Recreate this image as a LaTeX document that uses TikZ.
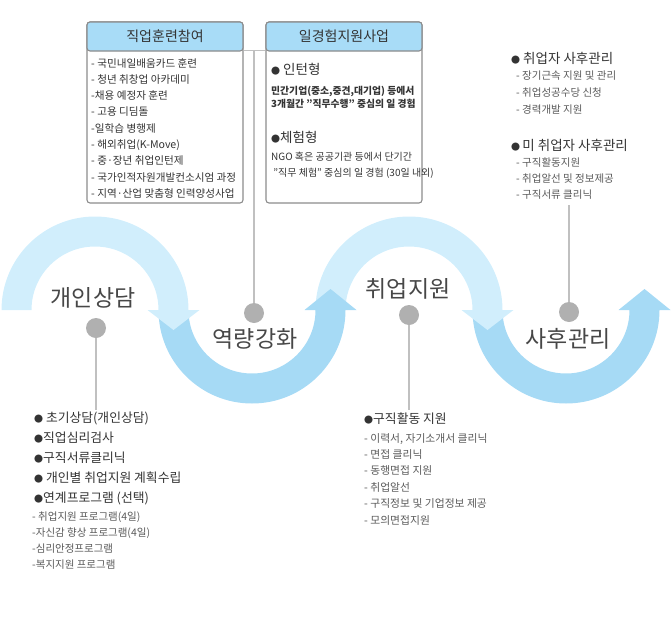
\documentclass[tikz,border=0pt]{standalone}
\usepackage{fontspec}
\setmainfont{Noto Sans CJK KR}
\usetikzlibrary{positioning}
\definecolor{skylight}{RGB}{209,238,252}
\definecolor{skydark}{RGB}{166,218,245}
\definecolor{headblue}{RGB}{168,220,247}
\definecolor{frame}{RGB}{140,140,140}
\definecolor{stemgray}{RGB}{192,192,192}
\definecolor{dotgray}{RGB}{176,176,176}
\definecolor{ink}{RGB}{51,51,51}
\definecolor{subink}{RGB}{90,90,90}
\newcommand{\bul}{{\fontsize{9}{9}\selectfont ●}}
\newcommand{\fs}[2]{\fontsize{#1}{#2}\selectfont}

\begin{document}
\begin{tikzpicture}[x=1pt,y=1pt,
      box/.style={
        % The shape:
        rectangle,rounded corners=3pt,minimum width=156pt,
        % The rest
        line width=1.1pt,draw=frame},
      header/.style={box,minimum height=29pt,fill=headblue,
        font=\fs{14}{14},text=ink},
      stage/.style={font=\fs{23}{23},text=ink!90},
      dot/.style={circle,fill=dotgray,minimum size=20pt,inner sep=0pt},
      stem/.style={line width=2pt,draw=stemgray},
      items/.style={align=left,inner sep=0pt,anchor=north west,text=ink},
      subitems/.style={items,text=subink}]
    \useasboundingbox (0,0) rectangle (672,-616);

    % arcs, right one first so each arrow head lies on top
    \fill[skydark] (472.5,-310) arc[start angle=180,end angle=360,radius=93.5]
      -- (670.5,-310) -- (644.5,-289) -- (618.5,-310) -- (629.5,-310)
      arc[start angle=0,end angle=-180,radius=63.5] -- cycle;
    \fill[skylight] (315.5,-310) arc[start angle=180,end angle=0,radius=93.5]
      -- (513.5,-310) -- (487.5,-330) -- (461.5,-310) -- (472.5,-310)
      arc[start angle=0,end angle=180,radius=63.5] -- cycle;
    \fill[skydark] (158.5,-310) arc[start angle=180,end angle=360,radius=93.5]
      -- (356.5,-310) -- (330.5,-289) -- (304.5,-310) -- (315.5,-310)
      arc[start angle=0,end angle=-180,radius=63.5] -- cycle;
    \fill[skylight] (1.5,-310) arc[start angle=180,end angle=0,radius=93.5]
      -- (199.5,-310) -- (173.5,-330) -- (147.5,-310) -- (158.5,-310)
      arc[start angle=0,end angle=180,radius=63.5] -- cycle;

    \node(coun)[stage] at (93,-298) {개인상담};
    \node(cap)[stage] at (255,-339) {역량강화};
    \node(job)[stage] at (408,-289) {취업지원};
    \node(post)[stage] at (568,-339) {사후관리};

    % boxes on top
    \node(train)[box, minimum height=181pt] at (165,-112.5) {};
    \node(trainhd)[header, below=0pt, at=(train.north)] {직업훈련참여};
    \node(work)[box, minimum height=181pt] at (344,-112.5) {};
    \node(workhd)[header, below=0pt, at=(work.north)] {일경험지원사업};

    \node(trainlist)[items, font=\fs{10.6}{16.3}] at (91,-58) {%
      - 국민내일배움카드 훈련\\
      - 청년 취창업 아카데미\\
      -채용 예정자 훈련\\
      - 고용 디딤돌\\
      -일학습 병행제\\
      - 해외취업(K-Move)\\
      - 중·장년 취업인턴제\\
      - 국가인적자원개발컨소시엄 과정\\
      - 지역·산업 맞춤형 인력양성사업};
    \node(intern)[items, font=\fs{13.5}{14}] at (271,-63) {\bul\ 인턴형};
    \node(interntx)[items, font=\bfseries\fs{9.8}{13.5}] at (271,-86) {%
      민간기업(중소,중견,대기업) 등에서\\
      3개월간 "직무수행" 중심의 일 경험};
    \node(exper)[items, font=\fs{13.5}{14}] at (271,-131) {\bul 체험형};
    \node(expertx)[items, font=\fs{10}{15.7}] at (271,-152) {%
      NGO 혹은 공공기관 등에서 단기간\\
      \ "직무 체험" 중심의 일 경험 (30일 내외)};

    \node(emp)[items, font=\fs{13.5}{14}] at (511,-52) {\bul\ 취업자 사후관리};
    \node(emplist)[subitems, font=\fs{10.5}{17}] at (516,-71) {%
      - 장기근속 지원 및 관리\\
      - 취업성공수당 신청\\
      - 경력개발 지원};
    \node(unemp)[items, font=\fs{13.5}{14}] at (511,-139) {\bul\,미 취업자 사후관리};
    \node(unemplist)[subitems, font=\fs{10.5}{15.7}] at (516,-158) {%
      - 구직활동지원\\
      - 취업알선 및 정보제공\\
      - 구직서류 클리닉};

    \node(counlist)[items, font=\fs{12.8}{20}] at (34,-412) {%
      \bul\ 초기상담(개인상담)\\
      \bul 직업심리검사\\
      \bul 구직서류클리닉\\
      \bul\ 개인별 취업지원 계획수립\\
      \bul 연계프로그램 (선택)};
    \node(counsub)[subitems, font=\fs{10.5}{16}] at (32,-512) {%
      - 취업지원 프로그램(4일)\\
      -자신감 향상 프로그램(4일)\\
      -심리안정프로그램\\
      -복지지원 프로그램};
    \node(joblist)[items, font=\fs{12.8}{14}] at (364,-413) {\bul 구직활동 지원};
    \node(jobsub)[subitems, font=\fs{10.8}{16.4}] at (364,-433) {%
      - 이력서, 자기소개서 클리닉\\
      - 면접 클리닉\\
      - 동행면접 지원\\
      - 취업알선\\
      - 구직정보 및 기업정보 제공\\
      - 모의면접지원};

    % stems and dots
    \coordinate(counend) at (96,-410);
    \coordinate(joint) at (254,-50);
    \coordinate(jobend) at (409,-410);
    \coordinate(postend) at (569,-205);
    \node(dcoun)[dot] at (96,-328) {};
    \node(dcap)[dot] at (254,-313) {};
    \node(djob)[dot] at (409,-315) {};
    \node(dpost)[dot] at (569,-312) {};
    \path (dcoun) edge[stem] (counend);
    \path (dcap) edge[stem] (joint);
    \path (djob) edge[stem] (jobend);
    \path (dpost) edge[stem] (postend);
    \draw[stemgray, line width=1pt] (train.east |- joint) -- (work.west |- joint);
  \end{tikzpicture}
\end{document}
